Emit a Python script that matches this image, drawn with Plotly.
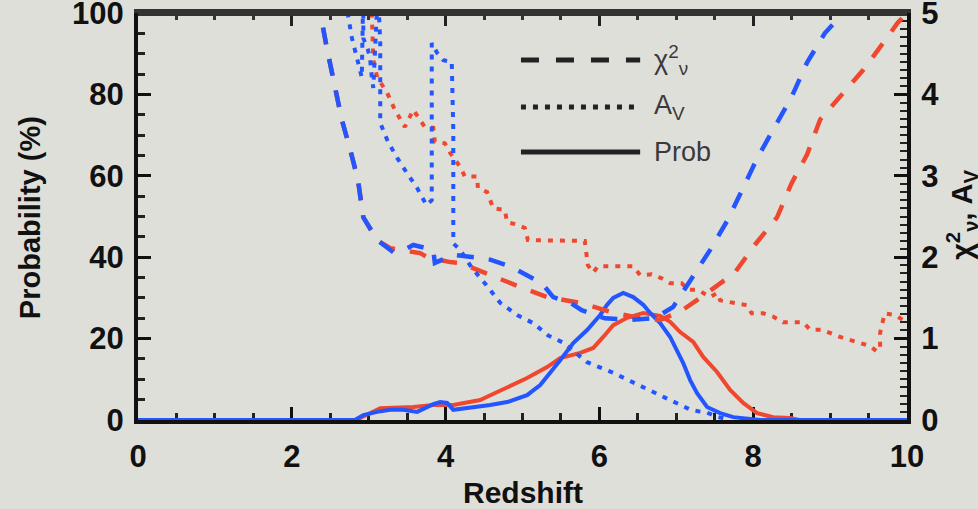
import plotly.graph_objects as go

# ---------------- data ----------------
# chi^2_nu (right axis)
z_chi_blue = [2.30, 2.37, 2.46, 2.56, 2.65, 2.76, 2.86, 2.93, 3.11, 3.32, 3.50, 3.58, 3.84, 3.86,
              4.10, 4.45, 4.58, 4.86, 5.00, 5.25, 5.40, 5.62, 5.77, 6.07, 6.40, 6.72, 6.96, 7.22,
              7.44, 7.67, 7.87, 8.06, 8.28, 8.50, 8.70, 8.93, 9.17, 9.25]
chi_blue = [5.6, 5.0, 4.55, 4.12, 3.69, 3.32, 2.95, 2.49, 2.21, 2.06, 2.11, 2.15, 2.09, 1.93,
            2.03, 1.99, 1.97, 1.88, 1.81, 1.68, 1.51, 1.44, 1.35, 1.25, 1.23, 1.25, 1.39, 1.76,
            2.09, 2.46, 2.85, 3.23, 3.60, 3.97, 4.39, 4.75, 5.0, 5.1]

z_chi_red = [2.30, 2.37, 2.46, 2.56, 2.65, 2.76, 2.86, 2.93, 3.11, 3.28, 3.67, 3.76, 4.06, 4.19,
             4.49, 4.90, 5.32, 5.75, 6.14, 6.53, 6.79, 7.05, 7.37, 7.76, 8.02, 8.31, 8.50, 8.70,
             8.87, 9.13, 9.43, 9.65, 9.88, 10.0]
chi_red = [5.6, 5.0, 4.55, 4.12, 3.69, 3.32, 2.95, 2.49, 2.21, 2.11, 2.05, 2.00, 1.94, 1.93,
           1.81, 1.66, 1.51, 1.44, 1.33, 1.25, 1.23, 1.33, 1.54, 1.81, 2.15, 2.49, 2.91, 3.26,
           3.69, 3.97, 4.30, 4.58, 4.88, 5.0]

# A_V (right axis)
z_av_blue = [2.70, 2.73, 2.78, 2.82, 2.86, 2.91, 2.93, 2.93, 2.99, 3.02, 3.04, 3.06, 3.12, 3.15,
             3.15, 3.15, 3.25, 3.37, 3.50, 3.63, 3.75, 3.82, 3.82, 3.89, 3.97, 4.08, 4.10, 4.10,
             4.19, 4.34, 4.51, 4.71, 4.93, 5.14, 5.33, 5.53, 5.84, 6.18, 6.53, 6.88, 7.20, 7.40,
             7.53, 7.70]
av_blue = [5.3, 4.98, 4.70, 4.55, 4.42, 4.21, 5.3, 4.69, 4.55, 4.42, 4.21, 4.08, 5.3, 4.63,
           4.09, 3.65, 3.42, 3.22, 3.03, 2.85, 2.64, 2.70, 4.63, 4.51, 4.42, 4.40, 3.56, 2.17,
           2.09, 1.87, 1.68, 1.44, 1.29, 1.19, 1.04, 0.95, 0.71, 0.58, 0.42, 0.27, 0.12, 0.09,
           0.04, 0.0]

z_av_red = [3.03, 3.04, 3.06, 3.11, 3.24, 3.34, 3.47, 3.58, 3.73, 3.84, 3.86, 3.99, 4.06, 4.19,
            4.25, 4.41, 4.42, 4.54, 4.62, 4.77, 4.80, 4.93, 5.03, 5.07, 5.81, 5.85, 5.92, 5.98,
            6.44, 6.53, 6.68, 6.81, 6.92, 7.07, 7.15, 7.28, 7.44, 7.53, 7.57, 7.92, 7.98, 8.13,
            8.26, 8.39, 8.65, 8.74, 8.89, 9.13, 9.28, 9.41, 9.52, 9.61, 9.65, 9.65, 9.71, 9.84,
            10.0]
av_red = [5.3, 4.98, 4.42, 4.21, 4.02, 3.81, 3.60, 3.81, 3.60, 3.59, 3.42, 3.40, 3.28, 3.11,
          2.99, 2.99, 2.85, 2.80, 2.60, 2.58, 2.43, 2.40, 2.36, 2.21, 2.20, 1.90, 1.81, 1.89,
          1.89, 1.78, 1.79, 1.74, 1.68, 1.68, 1.60, 1.60, 1.51, 1.56, 1.47, 1.41, 1.31, 1.31,
          1.27, 1.20, 1.20, 1.11, 1.11, 1.02, 0.98, 0.95, 0.91, 0.84, 0.90, 1.07, 1.31, 1.29,
          1.20]

# Probability (%) (left axis)
z_prob_blue = [0.0, 2.82, 2.93, 3.11, 3.28, 3.45, 3.63, 3.84, 3.93, 4.02, 4.10, 4.28, 4.58, 4.80,
               5.06, 5.23, 5.36, 5.49, 5.66, 5.84, 6.01, 6.10, 6.18, 6.31, 6.44, 6.57, 6.66, 6.79,
               6.92, 7.01, 7.09, 7.18, 7.27, 7.40, 7.57, 7.74, 7.92, 8.09, 10.0]
prob_blue = [0.0, 0.0, 1.2, 2.0, 2.5, 2.5, 2.0, 3.9, 4.4, 4.2, 2.5, 2.9, 3.7, 4.4,
             6.1, 8.6, 11.5, 14.7, 18.9, 22.1, 25.8, 28.3, 30.0, 31.2, 30.2, 28.3, 26.3, 23.8,
             20.4, 17.2, 14.0, 9.8, 6.6, 3.2, 1.7, 0.7, 0.25, 0.0, 0.0]

z_prob_red = [0.0, 2.85, 2.89, 3.15, 3.58, 3.84, 4.10, 4.45, 4.54, 4.80, 5.06, 5.32, 5.49, 5.75,
              5.92, 6.05, 6.18, 6.36, 6.57, 6.79, 6.92, 7.05, 7.22, 7.35, 7.53, 7.70, 7.87, 8.05,
              8.26, 8.48, 8.60, 10.0]
prob_red = [0.0, 0.0, 0.5, 2.9, 3.2, 3.7, 3.7, 4.9, 5.7, 8.1, 10.3, 13.0, 15.2, 16.5,
            17.7, 20.4, 23.3, 25.1, 26.3, 25.6, 24.1, 21.6, 19.2, 15.5, 11.8, 7.4, 4.2, 1.7,
            0.7, 0.5, 0.0, 0.0]

x_ticks = [0, 2, 4, 6, 8, 10]
y_ticks = [0, 20, 40, 60, 80, 100]
y2_ticks = [0, 1, 2, 3, 4, 5]

legend_labels = ["χ<sup>2</sup><sub>ν</sub>", "A<sub>V</sub>", "Prob"]

# ---------------- style ----------------
RED = "#f0472f"
BLUE = "#2456ff"
BG = "#dfdfd9"
DASH = "17px,15px"
DOT = "5px,7px"
FONT = "Liberation Sans, Arial, Helvetica, sans-serif"

fig = go.Figure()

def add(x, y, color, dash, xaxis, yaxis, width=4):
    fig.add_trace(go.Scatter(x=x, y=y, mode="lines", xaxis=xaxis, yaxis=yaxis,
                             showlegend=False,
                             line=dict(color=color, dash=dash, width=width),
                             hoverinfo="skip"))

# right-axis curves live on the (identical) top x axis so that it gets drawn
add(z_chi_red, chi_red, RED, DASH, "x2", "y2", 4.5)
add(z_av_red, av_red, RED, DOT, "x2", "y2")
add(z_prob_red, prob_red, RED, "solid", "x", "y")
add(z_chi_blue, chi_blue, BLUE, DASH, "x2", "y2", 4.5)
add(z_av_blue, av_blue, BLUE, DOT, "x2", "y2")
add(z_prob_blue, prob_blue, BLUE, "solid", "x", "y")

tickfont = dict(family=FONT, size=31, color="#111", weight="bold")

fig.update_layout(
    width=978, height=509,
    margin=dict(l=138, r=71, t=13, b=89, autoexpand=False),
    paper_bgcolor=BG, plot_bgcolor=BG,
    showlegend=False,
    xaxis=dict(range=[0, 10], tickvals=x_ticks, ticktext=[str(v) for v in x_ticks],
               ticks="inside", ticklen=13, tickwidth=3, tickcolor="#111",
               minor=dict(dtick=0.5, ticks="inside", ticklen=7, tickwidth=3, tickcolor="#222"),
               showline=True, linecolor="#111", linewidth=4,
               showgrid=False, zeroline=False, tickfont=tickfont, automargin=False,
               ticklabeloverflow="allow",
               layer="below traces", ticklabelstandoff=6),
    xaxis2=dict(range=[0, 10], tickvals=x_ticks, overlaying="x", side="top", anchor="y2",
                showticklabels=False,
                ticks="inside", ticklen=13, tickwidth=3, tickcolor="#222",
                minor=dict(dtick=0.5, ticks="inside", ticklen=7, tickwidth=3, tickcolor="#333"),
                showline=True, linecolor="#333", linewidth=4,
                showgrid=False, zeroline=False, automargin=False),
    yaxis=dict(range=[0, 100], tickvals=y_ticks, ticktext=[str(v) for v in y_ticks],
               ticks="inside", ticklen=13, tickwidth=3, tickcolor="#111",
               minor=dict(dtick=5, ticks="inside", ticklen=7, tickwidth=3, tickcolor="#222"),
               showline=True, linecolor="#111", linewidth=4,
               showgrid=False, zeroline=False, tickfont=tickfont, automargin=False,
               ticklabeloverflow="allow",
               layer="below traces", ticklabelstandoff=4),
    yaxis2=dict(range=[0, 5], tickvals=y2_ticks, ticktext=[str(v) for v in y2_ticks],
                overlaying="y", side="right", anchor="x2",
                ticks="inside", ticklen=13, tickwidth=3, tickcolor="#111",
                minor=dict(dtick=0.1, ticks="inside", ticklen=7, tickwidth=2, tickcolor="#222"),
                showline=True, linecolor="#111", linewidth=4,
                showgrid=False, zeroline=False, tickfont=tickfont, automargin=False,
                ticklabeloverflow="allow",
                layer="below traces", ticklabelstandoff=4),
)

# frame edge along the top of the plotting area
fig.add_shape(type="rect", xref="paper", yref="paper", x0=0, x1=1,
              ysizemode="pixel", yanchor=1, y0=-3, y1=2,
              fillcolor="#333", line=dict(width=0), layer="above")

# axis titles
fig.add_annotation(text="Redshift", xref="paper", yref="paper", x=0.5, y=-0.179,
                   showarrow=False, font=dict(family=FONT, size=30, color="#111", weight="bold"),
                   xanchor="center", yanchor="middle")
fig.add_annotation(text="Probability (%)", xref="paper", yref="paper", x=-0.1404, y=0.496,
                   showarrow=False, textangle=-90,
                   font=dict(family=FONT, size=29, color="#111", weight="bold"),
                   xanchor="center", yanchor="middle")
fig.add_annotation(text="χ<sup>2</sup><sub>ν</sub>, A<sub>V</sub>", xref="paper", yref="paper",
                   x=1.0715, y=0.504, showarrow=False, textangle=-90,
                   font=dict(family=FONT, size=29, color="#111", weight="bold"),
                   xanchor="center", yanchor="middle")

# hand-made legend
leg_y = [0.8845, 0.769, 0.6585]
leg_dash = ["18px,17px", "5px,7px", "solid"]
for yy, dd, lab in zip(leg_y, leg_dash, legend_labels):
    fig.add_shape(type="line", xref="paper", yref="paper", x0=0.498, x1=0.653, y0=yy, y1=yy,
                  line=dict(color="#222", width=5, dash=dd))
    fig.add_annotation(text=lab, xref="paper", yref="paper", x=0.668, y=yy, showarrow=False,
                       xanchor="left", yanchor="middle",
                       font=dict(family=FONT, size=27, color="#3a3a3a"))

fig.write_html("out.html", config={"displayModeBar": False},
               post_script="document.body.style.margin='0';")
